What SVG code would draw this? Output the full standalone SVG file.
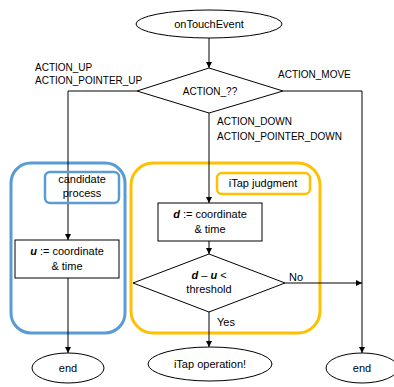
<svg xmlns="http://www.w3.org/2000/svg" width="394" height="387" viewBox="0 0 394 387">
<style>
text{font-family:"Liberation Sans",Arial,sans-serif;font-size:11px;fill:#000}
.lb{font-size:10px}
.mid{text-anchor:middle}
.shape{fill:#fff;stroke:#000;stroke-width:1}
.con{fill:none;stroke:#000;stroke-width:1}
.blue{fill:none;stroke:#5B9BD5;stroke-width:3}
.orange{fill:none;stroke:#FFC000;stroke-width:3}
</style>
<defs>
<marker id="ah" viewBox="0 0 8 8" refX="8" refY="4" markerWidth="6" markerHeight="6" orient="auto" markerUnits="userSpaceOnUse">
<path d="M0,0 L8,4 L0,8 z" fill="#000"/>
</marker>
</defs>
<g id="groups">
<g id="candidate-group"><rect class="blue" x="11" y="163" width="114" height="170" rx="20"/></g>
<g id="itap-group"><rect class="orange" x="131" y="163" width="189" height="170" rx="22"/></g>
</g>
<g id="connectors">
<path class="con" d="M209,38 V68" marker-end="url(#ah)"/>
<path class="con" d="M137,91 H68 V240" marker-end="url(#ah)"/>
<path class="con" d="M68,278 V353" marker-end="url(#ah)"/>
<path class="con" d="M283,91 H362 V353" marker-end="url(#ah)"/>
<path class="con" d="M209,113 V203" marker-end="url(#ah)"/>
<path class="con" d="M209,241 V254" marker-end="url(#ah)"/>
<path class="con" d="M285,283 H362" marker-end="url(#ah)"/>
<path class="con" d="M209,312 V347" marker-end="url(#ah)"/>
<text class="lb" x="35" y="71">ACTION_UP</text>
<text class="lb" x="35" y="84">ACTION_POINTER_UP</text>
<text class="lb" x="278" y="78">ACTION_MOVE</text>
<text class="lb" x="217" y="125">ACTION_DOWN</text>
<text class="lb" x="217" y="140">ACTION_POINTER_DOWN</text>
<text x="289" y="281">No</text>
<text x="217" y="326">Yes</text>
</g>
<g id="start">
<ellipse class="shape" cx="209" cy="24" rx="73" ry="14"/>
<text class="mid" x="209" y="28">onTouchEvent</text>
</g>
<g id="decision-action">
<polygon class="shape" points="209,68 283,91 209,113 137,91"/>
<text class="lb mid" x="210" y="95">ACTION_??</text>
</g>
<g id="candidate-label">
<rect x="45" y="172" width="74" height="31" rx="5" fill="none" stroke="#5B9BD5" stroke-width="2.5"/>
<text class="mid" x="82" y="183">candidate</text>
<text class="mid" x="82" y="197">process</text>
</g>
<g id="itap-label">
<rect x="217" y="173" width="93" height="21" rx="5" fill="none" stroke="#FFC000" stroke-width="2.5"/>
<text class="mid" x="263" y="187">iTap judgment</text>
</g>
<g id="u-box">
<rect class="shape" x="15" y="240" width="104" height="38"/>
<text class="mid" x="67" y="255"><tspan font-weight="bold" font-style="italic">u</tspan> := coordinate</text>
<text class="mid" x="67" y="270">&amp; time</text>
</g>
<g id="d-box">
<rect class="shape" x="158" y="203" width="104" height="38"/>
<text class="mid" x="210" y="218"><tspan font-weight="bold" font-style="italic">d</tspan> := coordinate</text>
<text class="mid" x="210" y="233">&amp; time</text>
</g>
<g id="decision-threshold">
<polygon class="shape" points="209,254 285,283 209,312 133,283"/>
<text class="mid" x="209" y="279"><tspan font-weight="bold" font-style="italic">d</tspan> – <tspan font-weight="bold" font-style="italic">u</tspan> &lt;</text>
<text class="mid" x="209" y="293">threshold</text>
</g>
<g id="end-left">
<ellipse class="shape" cx="68" cy="368" rx="36" ry="15"/>
<text class="mid" x="68" y="372">end</text>
</g>
<g id="itap-operation">
<ellipse class="shape" cx="210" cy="364" rx="62" ry="17"/>
<text class="mid" x="210" y="368">iTap operation!</text>
</g>
<g id="end-right">
<ellipse class="shape" cx="362" cy="368" rx="36" ry="15"/>
<text class="mid" x="362" y="372">end</text>
</g>
</svg>
